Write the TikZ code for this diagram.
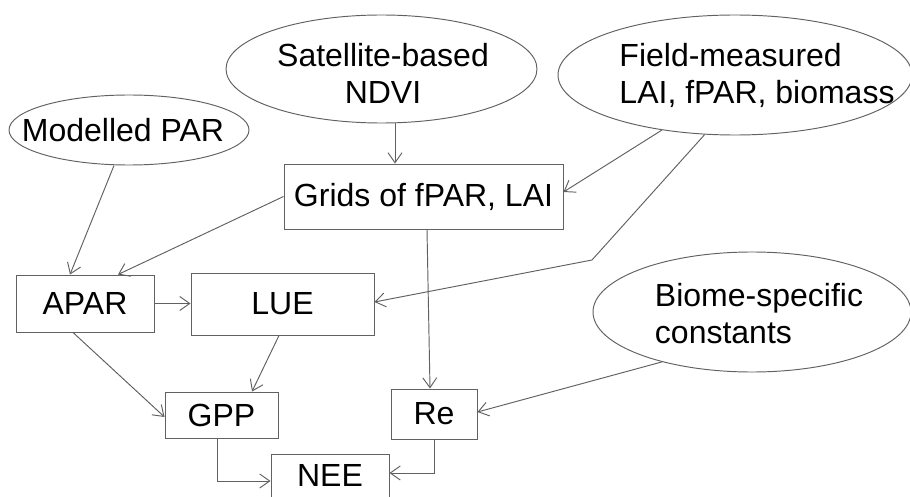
\documentclass[tikz,border=0pt]{standalone}
\usepackage{fontspec}
\setmainfont{Liberation Sans}
\usetikzlibrary{shapes.geometric,arrows.meta,calc}

\tikzset{
  lines/.style={draw=black!62, line width=0.95pt},
  source/.style={lines, ellipse, inner sep=0pt},
  stage/.style={lines, rectangle, inner sep=0pt},
  txt/.style={inner sep=0pt, align=center, font=\fontsize{32}{37}\selectfont},
  arr/.style={lines, -{Straight Barb[length=10pt,width=14pt]}},
}

\begin{document}
\begin{tikzpicture}[x=1pt,y=-1pt]
  \useasboundingbox (0,0) rectangle (910,497);
  \clip (0,0) rectangle (910,497);
  \fill[white] (0,0) rectangle (910,497);

  % input data (ellipses)
  \node[source, minimum width=240pt, minimum height=70pt] (par) at (129,130) {};
  \node[txt] (partext) at (123,130) {Modelled PAR};

  \node[source, minimum width=311pt, minimum height=108pt] (ndvi) at (381.5,69) {};
  \node[txt] (ndvitext) at (383,73) {Satellite-based\\NDVI};

  \node[source, minimum width=354pt, minimum height=120pt] (field) at (735,75) {};
  \node[txt, align=left] (fieldtext) at (757,75) {Field-measured\\LAI, fPAR, biomass};

  \node[source, minimum width=318pt, minimum height=120pt] (biome) at (752,312) {};
  \node[txt, align=left] (biometext) at (759,314) {Biome-specific\\constants};

  % model stages (boxes)
  \node[stage, minimum width=279pt, minimum height=65pt] (grids) at (423.5,196.5) {};
  \node[txt] (gridstext) at (423.5,197) {Grids of fPAR, LAI};

  \node[stage, minimum width=138pt, minimum height=57pt, txt] (apar) at (85,303.5) {APAR};
  \node[stage, minimum width=183pt, minimum height=62pt, txt] (lue) at (282.5,304) {LUE};
  \node[stage, minimum width=113pt, minimum height=46pt, txt] (gpp) at (221.5,415) {GPP};
  \node[stage, minimum width=86pt, minimum height=50pt, txt] (re) at (434,414) {Re};

  \node[stage, minimum width=118pt, minimum height=66pt] (nee) at (330,487) {};
  \node[txt] (neetext) at (330,475) {NEE};

  \coordinate (bend) at (592,260);

  % connectors
  \draw[arr] ([xshift=13.5pt]ndvi.south) -- ([xshift=-28.5pt]grids.north);
  \draw[arr] (field.217) -- ([yshift=4.5pt]grids.east);
  \draw[arr] (field.243) -- (bend) -- ([yshift=2pt]lue.east);
  \draw[arr] ([xshift=-15pt]par.south) -- ([xshift=-15pt]apar.north);
  \draw[arr] (grids.west) -- ([xshift=33pt]apar.north);
  \draw[arr] ([xshift=3.5pt]grids.south) -- ([xshift=-4pt]re.north);
  \draw[arr] (apar.east) -- (apar.east -| lue.west);
  \draw[arr] ([xshift=-12pt]apar.south) -- ([yshift=-2pt]gpp.west);
  \draw[arr] ([xshift=-3.5pt]lue.south) -- ([xshift=30.5pt]gpp.north);
  \draw[arr] (biome.209.5) -- ([yshift=2pt]re.east);
  \draw[arr] ([xshift=-4.5pt]gpp.south) |- ([yshift=6pt]nee.west);
  \draw[arr] (re.south) |- ([yshift=14pt]nee.east);
\end{tikzpicture}
\end{document}
